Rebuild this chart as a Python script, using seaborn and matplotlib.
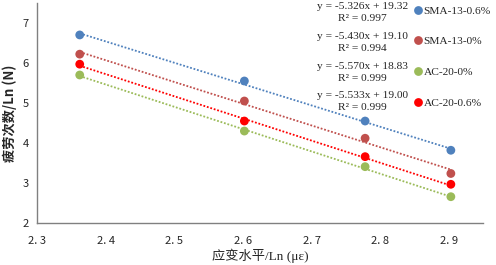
import numpy as np
import pandas as pd
import matplotlib
matplotlib.use("Agg")
import matplotlib.pyplot as plt
import seaborn as sns

# data
strain = [2.362, 2.602, 2.778, 2.903]
series = ["SMA-13-0.6%", "SMA-13-0%", "AC-20-0%", "AC-20-0.6%"]
sma13_06 = [6.70, 5.55, 4.55, 3.82]
sma13_0 = [6.22, 5.05, 4.12, 3.24]
ac20_0 = [5.70, 4.30, 3.41, 2.66]
ac20_06 = [5.97, 4.55, 3.66, 2.97]
slopes = [-5.326, -5.430, -5.570, -5.533]
intercepts = [19.32, 19.10, 18.83, 19.00]
r2 = [0.997, 0.994, 0.999, 0.999]
colors = ["#4F81BD", "#C0504D", "#9BBB59", "#FF0000"]
xticks = [2.3, 2.4, 2.5, 2.6, 2.7, 2.8, 2.9]
xticklabels = ["2. 3", "2. 4", "2. 5", "2. 6", "2. 7", "2. 8", "2. 9"]
yticks = [2, 3, 4, 5, 6, 7]

values = [sma13_06, sma13_0, ac20_0, ac20_06]
df = pd.DataFrame({
    "x": strain * 4,
    "y": sum(values, []),
    "series": [s for s in series for _ in strain],
})

sns.set_style("white")
plt.rcParams["font.family"] = ["Liberation Serif", "Noto Sans CJK SC"]

fig = plt.figure(figsize=(4.96, 2.65), dpi=100)
ax = fig.add_axes([0.075, 0.158, 0.899, 0.831])

# trendlines
xx = np.array([strain[0], strain[-1]])
for k, b, c in zip(slopes, intercepts, colors):
    ax.plot(xx, k * xx + b, linestyle=(0, (1, 1)), color=c, lw=1.3, zorder=1)

sns.scatterplot(data=df, x="x", y="y", hue="series", hue_order=series,
                palette=colors, s=40, edgecolor="none", ax=ax, zorder=3)

ax.set_xlim(2.3, 2.95)
ax.set_ylim(2, 7.5)
ax.set_xticks(xticks)
ax.set_xticklabels(xticklabels, family="Noto Sans CJK SC", fontsize=8)
ax.set_yticks(yticks)
ax.set_yticklabels([str(v) for v in yticks], family="Noto Sans CJK SC", fontsize=8)
ax.tick_params(axis="both", direction="in", length=3, width=0.8, color="#808080", pad=6)
ax.tick_params(axis="x", pad=9)

for side in ["top", "right"]:
    ax.spines[side].set_visible(False)
for side in ["left", "bottom"]:
    ax.spines[side].set_color("#808080")
    ax.spines[side].set_linewidth(1.0)

ax.set_xlabel("应变水平/Ln (με)", fontsize=9.5, labelpad=2)
ax.set_ylabel("疲劳次数/Ln (N)", fontsize=9.5, fontweight="bold", labelpad=4,
              family=["Noto Sans CJK SC"])

leg = ax.legend(loc="upper left", bbox_to_anchor=(0.845, 0.987), frameon=False,
                fontsize=8.2, labelspacing=1.82, handletextpad=0.15,
                handlelength=0.7, borderaxespad=0, borderpad=0)

# equation labels
for i in range(4):
    ytop = 0.982 - i * 0.1345
    ax.text(0.729, ytop, f"y = {slopes[i]:.3f}x + {intercepts[i]:.2f}",
            transform=ax.transAxes, ha="center", va="center", fontsize=8.2)
    ax.text(0.729, ytop - 0.0545, f"R² = {r2[i]:.3f}",
            transform=ax.transAxes, ha="center", va="center", fontsize=8.2)

fig.savefig("out.png", dpi=100)
